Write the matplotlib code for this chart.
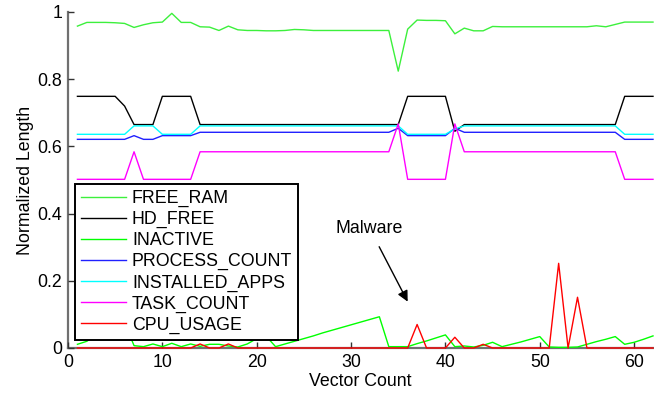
import matplotlib
matplotlib.use("Agg")
import matplotlib.pyplot as plt
import numpy as np

plt.rcParams['font.family'] = ['Liberation Sans', 'DejaVu Sans']

vector_count = list(range(1, 63))

free_ram = [0.958, 0.969, 0.969, 0.969, 0.968, 0.966, 0.954, 0.962, 0.968, 0.970,
            0.996, 0.969, 0.969, 0.956, 0.955, 0.945, 0.958, 0.947, 0.945, 0.945,
            0.944, 0.944, 0.945, 0.948, 0.947, 0.945, 0.945, 0.945, 0.945, 0.945,
            0.945, 0.945, 0.945, 0.945, 0.824, 0.949, 0.976, 0.975, 0.975, 0.974,
            0.935, 0.952, 0.944, 0.944, 0.957, 0.956, 0.956, 0.956, 0.956, 0.956,
            0.956, 0.956, 0.956, 0.956, 0.956, 0.959, 0.956, 0.963, 0.970, 0.970,
            0.970, 0.970]

hd_free = [0.749] * 5 + [0.720] + [0.665] * 3 + [0.749] * 4 + [0.665] * 22 + \
          [0.749] * 5 + [0.645] + [0.665] * 17 + [0.749] * 4

inactive = [0.011, 0.020, 0.040, 0.050, 0.060, 0.075, 0.007, 0.004, 0.012, 0.004,
            0.014, 0.004, 0.012, 0.005, 0.011, 0.011, 0.006, 0.003, 0.012, 0.028,
            0.035, 0.004, 0.012, 0.020, 0.028, 0.036, 0.045, 0.053, 0.061, 0.069,
            0.077, 0.085, 0.093, 0.004, 0.004, 0.004, 0.013, 0.021, 0.030, 0.039,
            0.004, 0.006, 0.003, 0.008, 0.017, 0.004, 0.011, 0.018, 0.026, 0.034,
            0.003, 0.002, 0.002, 0.003, 0.011, 0.019, 0.026, 0.034, 0.011, 0.017,
            0.026, 0.036]

process_count = [0.621] * 6 + [0.632, 0.621, 0.621] + [0.632] * 4 + [0.642] * 21 + \
                [0.654] + [0.632] * 5 + [0.654] + [0.642] * 17 + [0.621] * 4

installed_apps = [0.636] * 6 + [0.661] * 3 + [0.636] * 4 + [0.661] * 22 + \
                 [0.636] * 5 + [0.652] + [0.661] * 17 + [0.636] * 4

task_count = [0.502] * 6 + [0.584] + [0.502] * 6 + [0.584] * 21 + [0.667] + \
             [0.502] * 5 + [0.667] + [0.584] * 17 + [0.502] * 4

cpu_usage = [0.0] * 62
for idx, val in [(14, 0.012), (17, 0.012), (37, 0.070), (41, 0.032),
                 (44, 0.011), (52, 0.252), (54, 0.151)]:
    cpu_usage[idx - 1] = val

series = [
    ("FREE_RAM", free_ram, "#3cf03c"),
    ("HD_FREE", hd_free, "#000000"),
    ("INACTIVE", inactive, "#00ff00"),
    ("PROCESS_COUNT", process_count, "#2020ff"),
    ("INSTALLED_APPS", installed_apps, "#00ffff"),
    ("TASK_COUNT", task_count, "#ff00ff"),
    ("CPU_USAGE", cpu_usage, "#ff0000"),
]

fs = 12.8
fig = plt.figure(figsize=(6.54, 3.94), dpi=100)
ax = fig.add_axes([68 / 654, 46 / 394, 585 / 654, 336 / 394])

for name, vals, col in series:
    ax.plot(vector_count, vals, color=col, lw=1.0, label=name, clip_on=False)

ax.set_xlim(0, 62)
ax.set_ylim(0, 1)
ax.set_xticks([0, 10, 20, 30, 40, 50, 60])
ax.set_xticklabels(["0", "10", "20", "30", "40", "50", "60"], fontsize=fs)
ax.set_yticks([0, 0.2, 0.4, 0.6, 0.8, 1.0])
ax.set_yticklabels(["0", "0.2", "0.4", "0.6", "0.8", "1"], fontsize=fs)
ax.tick_params(direction='in', length=4.5, width=1.0, color='#333333', pad=4)

for side in ("top", "right"):
    ax.spines[side].set_visible(False)
for side in ("left", "bottom"):
    ax.spines[side].set_color("#707070")
    ax.spines[side].set_linewidth(1.6)
    ax.spines[side].set_zorder(0.5)

ax.set_xlabel("Vector Count", fontsize=fs, labelpad=2)
ax.set_ylabel("Normalized Length", fontsize=fs, labelpad=3)

ax.annotate("Malware", xy=(36.0, 0.138), xytext=(31.95, 0.357),
            fontsize=fs, ha='center', va='center',
            arrowprops=dict(arrowstyle='-|>', color='black', lw=1.0,
                            mutation_scale=16, shrinkA=6, shrinkB=0))

leg = ax.legend(loc='lower left', bbox_to_anchor=(0.012, 0.024), borderaxespad=0,
                fontsize=fs, frameon=True, fancybox=False, framealpha=1,
                handlelength=2.5, handletextpad=0.35, labelspacing=0.22,
                borderpad=0.35)
leg.get_frame().set_edgecolor('black')
leg.get_frame().set_linewidth(1.4)

fig.savefig("out.png", dpi=100)
